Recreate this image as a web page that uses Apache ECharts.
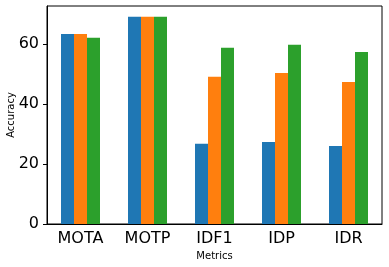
<!DOCTYPE html>
<html><head><meta charset="utf-8">
<script src="https://cdn.jsdelivr.net/npm/echarts@6/dist/echarts.min.js"></script>
<style>html,body{margin:0;padding:0;background:#fff}#c{width:389px;height:267px}</style>
</head><body><div id="c"></div>
<script>
const categories = ['MOTA', 'MOTP', 'IDF1', 'IDP', 'IDR'];
const seriesA = [63.3, 69.0, 26.7, 27.3, 26.0];
const seriesB = [63.3, 69.0, 49.0, 50.3, 47.3];
const seriesC = [62.0, 69.0, 58.7, 59.7, 57.3];
const yTicks = [0, 20, 40, 60];
const colors = ['#1f77b4', '#ff7f0e', '#2ca02c'];
const font = 'DejaVu Sans';
const chart = echarts.init(document.getElementById('c'), null, {renderer: 'canvas'});
const mk = (d, i) => ({type: 'bar', data: d, barWidth: 13, barGap: '0%', itemStyle: {color: colors[i]}, animation: false});
chart.setOption({
  animation: false,
  grid: {left: 47, right: 7, top: 6, bottom: 43, show: true, borderColor: '#000', borderWidth: 1,
    containLabel: false, outerBoundsMode: 'none'},
  xAxis: {
    type: 'category', data: categories,
    name: 'Metrics', nameLocation: 'middle', nameGap: 27, nameMoveOverlap: false,
    nameTextStyle: {fontFamily: font, fontSize: 10, color: '#000'},
    axisLine: {lineStyle: {color: '#000'}},
    axisTick: {alignWithLabel: true, length: 4, lineStyle: {color: '#000'}},
    axisLabel: {fontFamily: font, fontSize: 16, color: '#000', margin: 7}
  },
  yAxis: {
    type: 'value', min: 0, max: 72.6, interval: 20,
    name: 'Accuracy', nameLocation: 'middle', nameGap: 31, nameMoveOverlap: false,
    nameTextStyle: {fontFamily: font, fontSize: 10, color: '#000'},
    axisLine: {show: true, lineStyle: {color: '#000'}},
    axisTick: {show: true, length: 4, lineStyle: {color: '#000'}},
    splitLine: {show: false},
    axisLabel: {fontFamily: font, fontSize: 16, color: '#000', margin: 8, showMaxLabel: false,
      formatter: v => yTicks.includes(v) ? String(v) : ''}
  },
  series: [mk(seriesA, 0), mk(seriesB, 1), mk(seriesC, 2)]
});
</script></body></html>
